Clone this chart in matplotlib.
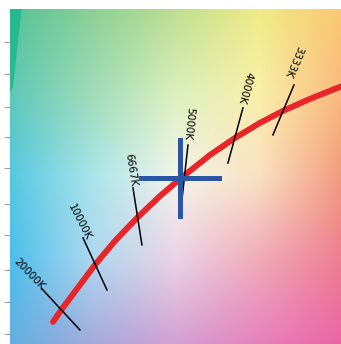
import numpy as np
import matplotlib
matplotlib.use("Agg")
import matplotlib.pyplot as plt

# Planckian locus (CIE 1931 x, y)
locus_x = [0.2586, 0.2647, 0.2871, 0.3008, 0.3157, 0.3314, 0.3457, 0.3654,
           0.3824, 0.3994, 0.4150, 0.4334, 0.4538, 0.4606]
locus_y = [0.2416, 0.2511, 0.2834, 0.3010, 0.3178, 0.3339, 0.3471, 0.3640,
           0.3765, 0.3875, 0.3963, 0.4051, 0.4139, 0.4161]

# isotemperature lines
cct_labels = ["20000K", "10000K", "6667K", "5000K", "4000K", "3333K"]
iso_start = [(0.2511, 0.2658), (0.2790, 0.3032), (0.3130, 0.3398),
             (0.3504, 0.3713), (0.3878, 0.3985), (0.4225, 0.4153)]
iso_end = [(0.2769, 0.2357), (0.2953, 0.2650), (0.3191, 0.2980),
           (0.3463, 0.3310), (0.3776, 0.3581), (0.4082, 0.3787)]
label_pos = [(0.2423, 0.2768), (0.2769, 0.3149), (0.3116, 0.3530),
             (0.3504, 0.3867), (0.3892, 0.4131), (0.4218, 0.4322)]
label_rot = [-46, -63, -81, -96, -105, -113]

# white point marker
cross_x, cross_y = 0.3450, 0.3471
cross_dx, cross_dy = 0.0265, 0.0282

ytick_vals = [0.4468, 0.4234, 0.3992, 0.3772, 0.3545, 0.3281, 0.3054, 0.2797, 0.2562, 0.2328]

# background colours sampled on a 5x5 grid (rows top -> bottom, cols left -> right)
bg_colors = [
    [(85, 195, 150), (140, 208, 150), (190, 222, 145), (240, 235, 135), (250, 200, 115)],
    [(95, 200, 185), (160, 220, 185), (220, 240, 190), (250, 240, 170), (250, 185, 125)],
    [(85, 200, 225), (170, 228, 235), (245, 245, 235), (250, 225, 195), (242, 155, 125)],
    [(75, 190, 235), (175, 215, 240), (235, 210, 230), (240, 170, 185), (238, 125, 145)],
    [(100, 175, 225), (165, 170, 220), (210, 160, 210), (230, 130, 190), (235, 100, 165)],
]
# saturated green sliver at the upper-left edge
wedge_x = [0.2200, 0.2382, 0.2314, 0.2200]
wedge_y = [0.4800, 0.4800, 0.4139, 0.3933]

x_min, x_max = 0.2290, 0.4545
y_min, y_max = 0.2254, 0.4710

fig = plt.figure(figsize=(3.41, 3.44), dpi=100)
ax = fig.add_axes([9.5 / 341, 0, 1 - 9.5 / 341, 335 / 344])

# smooth the sampled grid into an image
grid = np.array(bg_colors, dtype=float)[::-1] / 255.0
n = 300
t = np.linspace(0, grid.shape[0] - 1, n)
i0 = np.clip(np.floor(t).astype(int), 0, grid.shape[0] - 2)
f = (t - i0)[:, None]
rows = grid[i0] * (1 - f[..., None]) + grid[i0 + 1] * f[..., None]
g = (t - i0)[None, :, None]
img = rows[:, i0] * (1 - g) + rows[:, i0 + 1] * g
ax.imshow(img, origin="lower", extent=[x_min, x_max, y_min, y_max],
          aspect="auto", interpolation="bilinear", zorder=0)
ax.fill(wedge_x, wedge_y, color="#27b98f", lw=0, zorder=1)

ax.plot(locus_x, locus_y, color="#e8262a", lw=4.3, solid_capstyle="round",
        solid_joinstyle="round", zorder=3)

for lab, p0, p1, lp, rot in zip(cct_labels, iso_start, iso_end, label_pos, label_rot):
    ax.plot([p0[0], p1[0]], [p0[1], p1[1]], color="black", lw=1.1, zorder=4)
    ax.text(lp[0], lp[1], lab, rotation=rot, rotation_mode="anchor",
            ha="center", va="center", fontsize=7.5, zorder=5)

ax.plot([cross_x - cross_dx, cross_x + cross_dx], [cross_y, cross_y],
        color="#2b56a6", lw=3.6, zorder=6)
ax.plot([cross_x, cross_x], [cross_y - cross_dy, cross_y + cross_dy],
        color="#2b56a6", lw=3.6, zorder=6)

ax.set_xlim(x_min, x_max)
ax.set_ylim(y_min, y_max)
ax.set_xticks([])
ax.set_yticks(ytick_vals)
ax.set_yticklabels([])
ax.tick_params(axis="y", length=4, width=0.6, color="#888888")
for s in ax.spines.values():
    s.set_visible(False)

fig.savefig("out.png", dpi=100)
